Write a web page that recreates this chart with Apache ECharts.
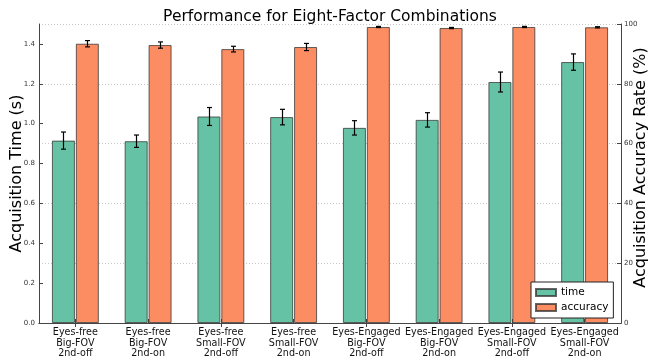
<!DOCTYPE html>
<html>
<head>
<meta charset="utf-8">
<script src="https://cdn.jsdelivr.net/npm/echarts@6/dist/echarts.min.js"></script>
<style>
  html, body { margin: 0; padding: 0; background: #ffffff; }
  #chart { width: 648px; height: 360px; }
</style>
</head>
<body>
<div id="chart"></div>
<script>
// Condition labels (three lines each)
const categories = [
  'Eyes-free\nBig-FOV\n2nd-off',
  'Eyes-free\nBig-FOV\n2nd-on',
  'Eyes-free\nSmall-FOV\n2nd-off',
  'Eyes-free\nSmall-FOV\n2nd-on',
  'Eyes-Engaged\nBig-FOV\n2nd-off',
  'Eyes-Engaged\nBig-FOV\n2nd-on',
  'Eyes-Engaged\nSmall-FOV\n2nd-off',
  'Eyes-Engaged\nSmall-FOV\n2nd-on'
];

// Mean acquisition time (s) and its error
const timeMean = [0.915, 0.912, 1.036, 1.033, 0.979, 1.019, 1.209, 1.309];
const timeErr  = [0.043, 0.031, 0.045, 0.039, 0.036, 0.036, 0.050, 0.041];

// Mean acquisition accuracy rate (%) and its error
const accMean = [93.4, 92.96, 91.6, 92.3, 99.0, 98.65, 99.0, 98.9];
const accErr  = [1.05, 1.05, 0.95, 1.2, 0.2, 0.2, 0.2, 0.2];

// Axis tick settings
const timeTicks = { min: 0, max: 1.5, interval: 0.2 };
const accTicks  = { min: 0, max: 100, interval: 20 };

const GREEN = '#66c2a5';
const ORANGE = '#fc8d62';
const FONT = 'DejaVu Sans';
const BAR_W = 23;
const HALF_SHIFT = 12;

function errorRange(means, errs) {
  return means.map((m, i) => [i, m - errs[i], m + errs[i]]);
}

function errorBarRenderer(offset) {
  return function (params, api) {
    const idx = api.value(0);
    const top = api.coord([idx, api.value(2)]);
    const bot = api.coord([idx, api.value(1)]);
    const x = Math.round(top[0] + offset) + 0.5;
    const cap = 2.5;
    const style = { stroke: '#000', lineWidth: 1.2 };
    return {
      type: 'group',
      children: [
        { type: 'line', shape: { x1: x, y1: top[1], x2: x, y2: bot[1] }, style },
        { type: 'line', shape: { x1: x - cap, y1: top[1], x2: x + cap, y2: top[1] }, style },
        { type: 'line', shape: { x1: x - cap, y1: bot[1], x2: x + cap, y2: bot[1] }, style }
      ]
    };
  };
}

const axisLineStyle = { color: '#444', width: 1 };
const tickStyle = { show: true, inside: true, length: 4, lineStyle: { color: '#444' } };

const chart = echarts.init(document.getElementById('chart'), null, { renderer: 'canvas' });
chart.setOption({
  animation: false,
  backgroundColor: '#fff',
  textStyle: { fontFamily: FONT },
  title: {
    text: 'Performance for Eight-Factor Combinations',
    left: 325,
    textAlign: 'center',
    top: 4,
    textStyle: { fontFamily: FONT, fontSize: 15.5, fontWeight: 'normal', color: '#000' }
  },
  legend: {
    orient: 'vertical',
    left: 531,
    top: 282,
    padding: [5, 5, 5, 4],
    itemGap: 4,
    itemWidth: 20,
    itemHeight: 7,
    icon: 'rect',
    backgroundColor: '#fff',
    borderColor: '#222',
    borderWidth: 1,
    borderRadius: 0,
    textStyle: { fontFamily: FONT, fontSize: 10.5, color: '#000' },
    data: ['time', 'accuracy']
  },
  grid: { left: 39, right: 27, top: 24, bottom: 37, containLabel: false, outerBoundsMode: 'none' },
  xAxis: [
    {
      type: 'category',
      data: categories,
      position: 'bottom',
      axisLine: { lineStyle: axisLineStyle },
      axisTick: Object.assign({ alignWithLabel: true }, tickStyle),
      axisLabel: { interval: 0, fontFamily: FONT, fontSize: 9.6, lineHeight: 10.7, color: '#111', margin: 4 },
      splitLine: { show: false }
    },
    {
      type: 'category',
      data: categories,
      position: 'top',
      axisLine: { lineStyle: axisLineStyle },
      axisTick: Object.assign({ alignWithLabel: true }, tickStyle),
      axisLabel: { show: false },
      splitLine: { show: false }
    }
  ],
  yAxis: [
    {
      type: 'value',
      position: 'left',
      min: timeTicks.min,
      max: timeTicks.max,
      interval: timeTicks.interval,
      name: 'Acquisition Time (s)',
      nameLocation: 'middle',
      nameRotate: 90,
      nameGap: 14,
      nameMoveOverlap: false,
      nameTextStyle: { fontFamily: FONT, fontSize: 16, color: '#000' },
      axisLine: { show: true, lineStyle: axisLineStyle },
      axisTick: tickStyle,
      axisLabel: { fontFamily: FONT, fontSize: 7, color: '#333', margin: 4, showMaxLabel: false, formatter: v => v.toFixed(1) },
      splitLine: { show: false }
    },
    {
      type: 'value',
      position: 'right',
      min: accTicks.min,
      max: accTicks.max,
      interval: accTicks.interval,
      name: 'Acquisition Accuracy Rate (%)',
      nameLocation: 'middle',
      nameRotate: 90,
      nameGap: 12,
      nameMoveOverlap: false,
      nameTextStyle: { fontFamily: FONT, fontSize: 16, color: '#000', padding: [0, 0, 0, 12] },
      axisLine: { show: true, lineStyle: axisLineStyle },
      axisTick: tickStyle,
      axisLabel: { fontFamily: FONT, fontSize: 7, color: '#333', margin: 3 },
      splitLine: { show: true, lineStyle: { color: '#c8c8c8', type: [1, 2], width: 1 } }
    }
  ],
  series: [
    {
      name: 'time',
      type: 'bar',
      xAxisIndex: 0,
      yAxisIndex: 0,
      data: timeMean,
      barWidth: BAR_W,
      barGap: '4%',
      itemStyle: { color: GREEN, borderColor: 'rgba(50,50,50,0.75)', borderWidth: 1 },
      z: 2
    },
    {
      name: 'accuracy',
      type: 'bar',
      xAxisIndex: 0,
      yAxisIndex: 1,
      data: accMean,
      barWidth: BAR_W,
      barGap: '4%',
      itemStyle: { color: ORANGE, borderColor: 'rgba(50,50,50,0.75)', borderWidth: 1 },
      z: 2
    },
    {
      name: 'time-err',
      type: 'custom',
      xAxisIndex: 0,
      yAxisIndex: 0,
      renderItem: errorBarRenderer(-HALF_SHIFT),
      data: errorRange(timeMean, timeErr),
      encode: { x: 0, y: [1, 2] },
      z: 5
    },
    {
      name: 'acc-err',
      type: 'custom',
      xAxisIndex: 0,
      yAxisIndex: 1,
      renderItem: errorBarRenderer(HALF_SHIFT),
      data: errorRange(accMean, accErr),
      encode: { x: 0, y: [1, 2] },
      z: 5
    }
  ]
});
</script>
</body>
</html>
